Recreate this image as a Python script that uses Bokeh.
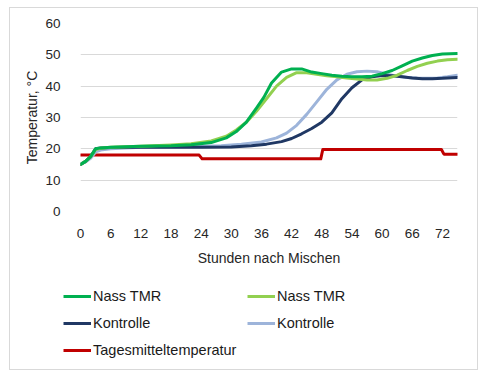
from bokeh.plotting import figure
from bokeh.models import Range1d, FixedTicker, Legend, LegendItem
from bokeh.layouts import column, row
from bokeh.embed import file_html
from bokeh.resources import INLINE

# ---- data ----
nass1_h = [0, 1, 2, 3, 4, 6, 12, 18, 22, 26, 29, 31, 33, 35, 36.5, 38, 40, 42, 44, 46, 48, 50, 52, 54, 56, 58, 60, 62, 64, 66, 68, 70, 72, 75]
nass1_t = [15, 16, 17.5, 20, 20.3, 20.5, 20.8, 21, 21.3, 22, 23.5, 25.5, 28.5, 33, 36.5, 41, 44.5, 45.5, 45.5, 44.5, 44, 43.5, 43.2, 43, 43, 43.2, 44, 45, 46.5, 48, 49, 49.8, 50.3, 50.4]

nass2_h = [0, 1, 2, 3, 4, 6, 12, 18, 22, 26, 29, 31, 33, 35, 37, 39, 41, 43, 45, 47, 49, 51, 53, 55, 57, 59, 61, 63, 65, 67, 69, 71, 73, 75]
nass2_t = [15, 16, 17.5, 19.8, 20.2, 20.5, 20.8, 21.2, 21.6, 22.5, 24, 26, 28.5, 32, 36, 40, 42.8, 44.3, 44.3, 43.8, 43.3, 43, 42.6, 42.3, 42, 42, 42.5, 43.5, 45, 46.3, 47.3, 48, 48.4, 48.6]

kontr1_h = [0, 1, 2, 3, 4, 6, 12, 18, 24, 30, 34, 37, 40, 42, 44, 46, 48, 50, 52, 54, 56, 58, 60, 62, 64, 66, 68, 70, 72, 75]
kontr1_t = [15, 16, 17.5, 20, 20.3, 20.4, 20.5, 20.5, 20.5, 20.6, 21, 21.5, 22.3, 23.3, 24.8, 26.5, 28.5, 31.5, 36, 39.5, 42, 43, 43.4, 43.3, 43, 42.6, 42.4, 42.4, 42.5, 42.8]

kontr2_h = [0, 1, 2, 3, 4, 6, 12, 18, 24, 28, 32, 36, 39, 41, 43, 45, 47, 49, 51, 53, 55, 57, 59, 61, 63, 65, 67, 69, 71, 73, 75]
kontr2_t = [15, 15.8, 17, 19, 19.6, 20, 20.5, 20.7, 20.8, 21, 21.5, 22.2, 23.5, 25, 27.5, 31, 35, 39, 42, 43.8, 44.6, 44.8, 44.6, 43.8, 43.2, 42.8, 42.6, 42.5, 42.6, 43, 43.5]

tages_h = [0, 23.6, 24.2, 47.8, 48.2, 71.8, 72.3, 75]
tages_t = [18, 18, 16.8, 16.8, 19.8, 19.8, 18.3, 18.3]

x_ticks = [0, 6, 12, 18, 24, 30, 36, 42, 48, 54, 60, 66, 72]
y_ticks = [0, 10, 20, 30, 40, 50, 60]

labels = ["Nass TMR", "Nass TMR", "Kontrolle", "Kontrolle", "Tagesmitteltemperatur"]
colors = ["#00B050", "#92D050", "#203864", "#9DB4DA", "#C00000"]

FONT = "Liberation Sans"
TXT = "#262626"

# ---- main chart ----
p = figure(width=467, height=260, output_backend="svg", toolbar_location=None,
           x_range=Range1d(0, 75), y_range=Range1d(0, 60),
           min_border_left=70, min_border_right=20, min_border_top=15, min_border_bottom=56)
p.outline_line_color = None
p.background_fill_color = "white"
p.border_fill_color = "white"

p.xgrid.grid_line_color = None
p.ygrid.grid_line_color = "#d9d9d9"
p.ygrid.grid_line_width = 1
p.ygrid.ticker = FixedTicker(ticks=y_ticks)

p.xaxis.ticker = FixedTicker(ticks=x_ticks)
p.yaxis.ticker = FixedTicker(ticks=y_ticks)
for ax in (p.xaxis[0], p.yaxis[0]):
    ax.axis_line_color = None
    ax.major_tick_line_color = None
    ax.minor_tick_line_color = None
    ax.major_label_text_font = FONT
    ax.major_label_text_font_size = "13.5px"
    ax.major_label_text_color = TXT
    ax.axis_label_text_font = FONT
    ax.axis_label_text_font_size = "14px"
    ax.axis_label_text_font_style = "normal"
    ax.axis_label_text_color = TXT

p.xaxis.axis_label = "Stunden nach Mischen"
p.yaxis.axis_label = "Temperatur, °C"
p.xaxis.major_label_standoff = 11
p.xaxis.axis_label_standoff = 9
p.yaxis.major_label_standoff = 14
p.yaxis.axis_label_standoff = 2

series = [(nass1_h, nass1_t), (nass2_h, nass2_t), (kontr1_h, kontr1_t), (kontr2_h, kontr2_t), (tages_h, tages_t)]
for i in [4, 3, 2, 1, 0]:
    xs, ys = series[i]
    p.line(xs, ys, line_color=colors[i], line_width=3, line_join="round", line_cap="round")

# ---- legend strip ----
q = figure(width=467, height=101, output_backend="svg", toolbar_location=None,
           x_range=Range1d(0, 1), y_range=Range1d(0, 1),
           min_border_left=0, min_border_right=0, min_border_top=0, min_border_bottom=0)
q.axis.visible = False
q.grid.visible = False
q.outline_line_color = None
q.background_fill_color = "white"
q.border_fill_color = "white"

keys = {}
for i in range(5):
    xs, ys = series[i]
    # single-point line: invisible in the strip, only used for the legend key
    keys[i] = q.line(xs[:1], ys[:1], line_color=colors[i], line_width=3)

def make_legend(idx, loc):
    lg = Legend(items=[LegendItem(label=labels[i], renderers=[keys[i]]) for i in idx],
                location=loc, orientation="vertical")
    lg.padding = 0
    lg.margin = 0
    lg.spacing = 0
    lg.glyph_width = 28
    lg.glyph_height = 20
    lg.label_height = 27
    lg.label_standoff = 2
    lg.label_text_font = FONT
    lg.label_text_font_size = "14.5px"
    lg.label_text_color = "#1a1a1a"
    lg.background_fill_alpha = 0
    lg.border_line_color = None
    return lg

q.add_layout(make_legend([0, 2, 4], (53, 6)))
q.add_layout(make_legend([1, 3], (237, 33)))

layout = column(p, row(q), spacing=0)
layout.styles = {"border": "1px solid #d9d9d9", "margin-left": "9px", "margin-top": "7px"}

open("out.html", "w").write(file_html(layout, INLINE))
